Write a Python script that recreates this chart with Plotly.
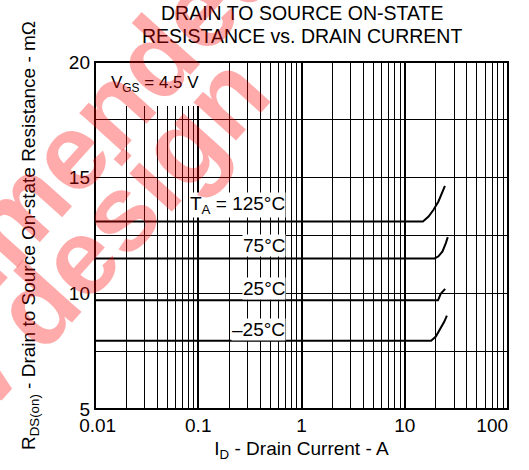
import plotly.graph_objects as go
import math

# ---- data ----
temps = ["125°C", "75°C", "25°C", "-25°C"]
x_125 = [0.01, 15.0, 17.0, 19.0, 21.2, 24.5]
y_125 = [13.11, 13.11, 13.32, 13.61, 13.97, 14.65]
x_75 = [0.01, 19.5, 21.2, 23.2, 25.0, 26.1]
y_75 = [11.51, 11.51, 11.60, 11.81, 12.17, 12.43]
x_25 = [0.01, 21.0, 22.3, 24.6]
y_25 = [9.70, 9.70, 9.98, 10.19]
x_m25 = [0.01, 18.0, 20.0, 22.0, 24.1, 25.6]
y_m25 = [7.95, 7.95, 8.13, 8.43, 8.77, 9.04]

x_tickvals = [0.01, 0.1, 1, 10, 100]
x_ticktext = ["\u00a00.01", "0.1", "1", "10", "100" + "\u00a0" * 6]
y_tickvals = [5, 10, 15, 20]
y_minor = [7.5, 12.5, 17.5]
x_minor = [m * d for d in (0.01, 0.1, 1, 10) for m in range(2, 10)]

W, H = 529, 470
L, R, T, B = 95, 21, 62, 61
FONT = "Liberation Sans, Arial, sans-serif"

fig = go.Figure()
for xs, ys in [(x_125, y_125), (x_75, y_75), (x_25, y_25), (x_m25, y_m25)]:
    fig.add_trace(go.Scatter(x=xs, y=ys, mode="lines",
                             line=dict(color="black", width=2),
                             showlegend=False, hoverinfo="skip"))

fig.update_xaxes(type="log", range=[-2, 2], tickvals=x_tickvals, ticktext=x_ticktext,
                 showgrid=True, gridcolor="black", gridwidth=2, ticks="",
                 showline=False, zeroline=False, automargin=False, ticklabelstandoff=3,
                 ticklabeloverflow="allow",
                 minor=dict(tickvals=x_minor, showgrid=True, gridcolor="black", gridwidth=1, ticks=""),
                 tickfont=dict(size=19, color="black"),
                 title=dict(text="I<sub>D</sub> - Drain Current - A", standoff=6,
                            font=dict(size=19, color="black")))
fig.update_yaxes(range=[5, 20], tickvals=y_tickvals,
                 showgrid=True, gridcolor="black", gridwidth=1, ticks="",
                 showline=False, zeroline=False, automargin=False, ticklabelstandoff=4,
                 ticklabeloverflow="allow",
                 minor=dict(tickvals=y_minor, showgrid=True, gridcolor="black", gridwidth=1, ticks=""),
                 tickfont=dict(size=19, color="black"),
                 title=dict(text="R<sub>DS(on)</sub> - Drain to Source On-state Resistance - mΩ",
                            standoff=28, font=dict(size=19, color="black")))

# white box behind V_GS label, then frame
fig.add_shape(type="rect", xref="x", yref="y", x0=0.01, x1=0.104, y0=18.1, y1=20,
              fillcolor="white", line=dict(width=0), layer="above")
fig.add_shape(type="rect", xref="paper", yref="paper", x0=0, x1=1, y0=0, y1=1,
              line=dict(color="black", width=2), layer="above")

fig.add_annotation(x=math.log10(0.038), y=19.05, xref="x", yref="y",
                   text="V<sub>GS</sub> = 4.5 V", showarrow=False,
                   font=dict(size=17, color="black"))

labels = [("T<sub>A</sub> = 125°C", 13.80), ("75°C", 12.06), ("25°C", 10.22), ("–25°C", 8.43)]
for txt, yv in labels:
    fig.add_annotation(x=math.log10(0.70), y=yv, xref="x", yref="y", xanchor="right",
                       text=txt, showarrow=False, bgcolor="white", borderpad=0,
                       font=dict(size=19, color="black"))

pw, ph = W - L - R, H - T - B
def px(xp):  # window pixel -> paper
    return (xp - L) / pw
def py(yp):
    return (H - B - yp) / ph

# chart title (two lines)
for txt, yy in [("DRAIN TO SOURCE ON-STATE", 13), ("RESISTANCE vs. DRAIN CURRENT", 35.5)]:
    fig.add_annotation(x=0.5, y=py(yy), xref="paper", yref="paper", text=txt,
                       showarrow=False, xanchor="center", yanchor="middle",
                       font=dict(size=19.5, color="black"))

# watermark
wm_font = dict(size=108, color="rgba(255,0,0,0.33)", family="Liberation Sans, Arial, sans-serif")
fig.add_annotation(x=px(14), y=py(214), xref="paper", yref="paper", text="<b>recommended</b>",
                   textangle=-48, showarrow=False, font=wm_font, xanchor="center", yanchor="middle")
fig.add_annotation(x=px(50), y=py(290), xref="paper", yref="paper", text="<b>new design</b>",
                   textangle=-48, showarrow=False, font=wm_font, xanchor="center", yanchor="middle")

fig.update_layout(
    width=W, height=H,
    margin=dict(l=L, r=R, t=T, b=B),
    paper_bgcolor="white", plot_bgcolor="white",
    font=dict(family=FONT, size=19, color="black"),
)
fig.write_html("out.html", config={"displayModeBar": False, "staticPlot": True},
               post_script="document.body.style.margin='0';document.body.style.overflow='hidden';")
